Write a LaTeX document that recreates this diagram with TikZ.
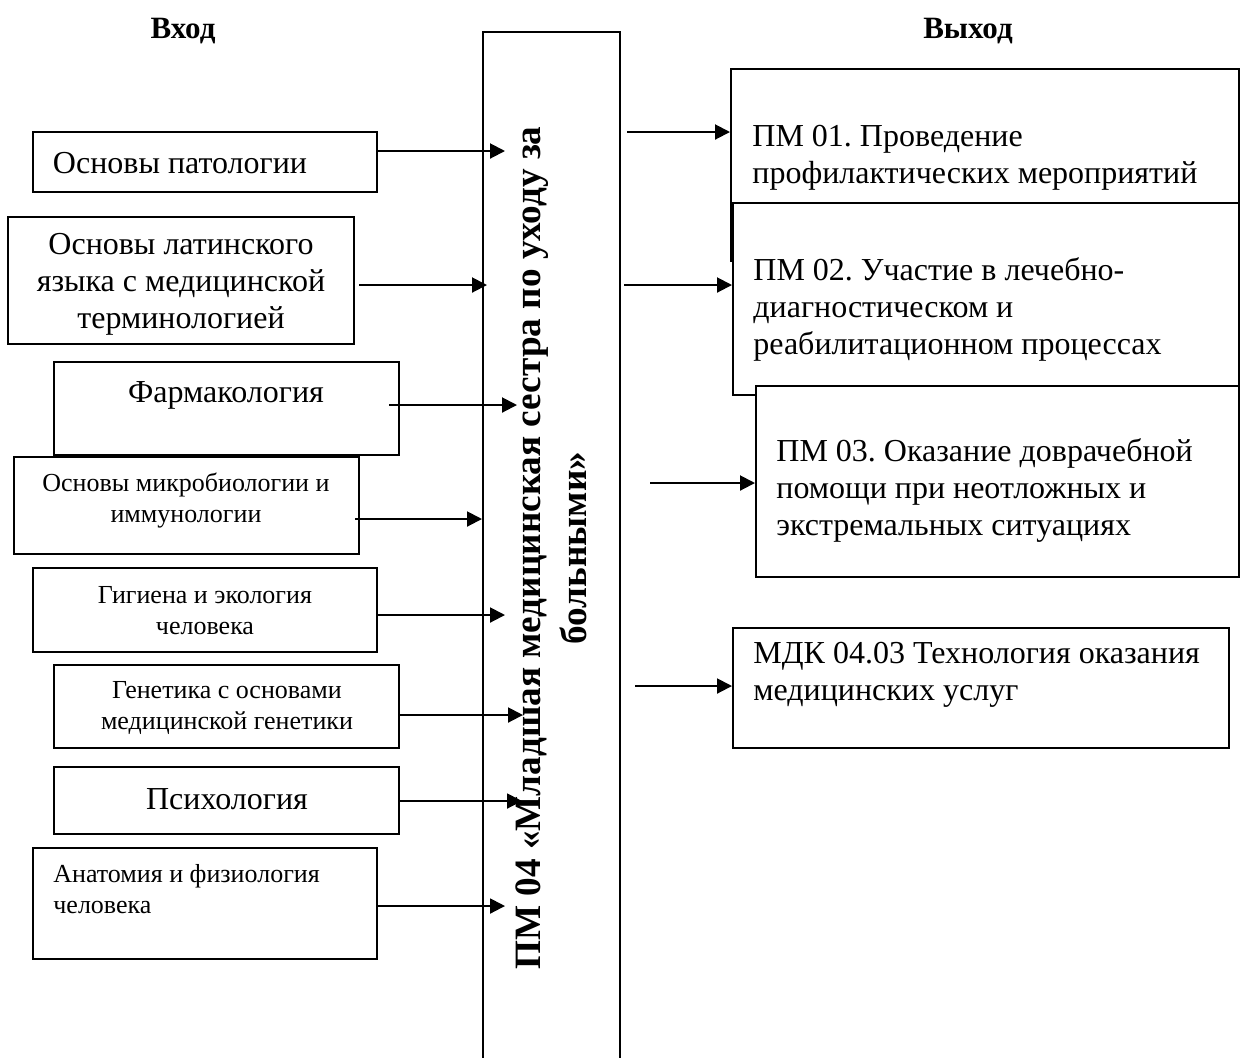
\documentclass[tikz,border=0pt]{standalone}
\usepackage{fontspec}
\setmainfont{Liberation Serif}
\usetikzlibrary{arrows.meta,calc}
\frenchspacing

\begin{document}
\begin{tikzpicture}[x=0.5pt,y=-0.5pt,
  box/.style={draw,line width=1pt,fill=white,inner sep=0pt},
  big/.style={font=\fontsize{16}{18.5}\selectfont,align=center,inner sep=0pt},
  small/.style={font=\fontsize{13}{15.5}\selectfont,align=center,inner sep=0pt},
  head/.style={font=\bfseries\fontsize{15.5}{18}\selectfont,inner sep=0pt},
  arr/.style={line width=1pt,-{Triangle[length=7.5pt,width=7.5pt]}}]
\useasboundingbox (0,0) rectangle (1240,1057);

\node[head] (inhead) at (183,31) {Вход};
\node[head] (outhead) at (968,31) {Выход};

\node[minimum width=68.5pt,minimum height=520pt,inner sep=0pt] (mod) at (551.5,552) {};
\draw[line width=1pt] (mod.south west) |- (mod.north east) -- (mod.south east);
\node[rotate=90,font=\bfseries\fontsize{18.6}{23}\selectfont,align=center,inner sep=0pt] (modtxt) at (551,548)
  {ПМ 04 «Младшая медицинская сестра по уходу за\\больными»};

\node[box,minimum width=172.25pt,minimum height=30pt] (pat) at (204.75,162) {};
\node[big] (pattxt) at (180,163) {Основы патологии};
\node[box,minimum width=173pt,minimum height=63.5pt] (lat) at (181,280.5) {};
\node[big] (lattxt) at (181,284) {Основы латинского\\языка с медицинской\\терминологией};
\node[box,minimum width=172.5pt,minimum height=46.5pt] (farm) at (226.5,408.5) {};
\node[big] (farmtxt) at (226,395) {Фармакология};
\node[box,minimum width=172.5pt,minimum height=48.5pt] (micro) at (186.5,505.5) {};
\node[small] (microtxt) at (186,500) {Основы микробиологии и\\иммунологии};
\node[box,minimum width=172.25pt,minimum height=42pt] (hyg) at (204.75,610) {};
\node[small] (hygtxt) at (205,611) {Гигиена и экология\\человека};
\node[box,minimum width=172.5pt,minimum height=41.5pt] (gen) at (226.5,706.5) {};
\node[small] (gentxt) at (227,707.5) {Генетика с основами\\медицинской генетики};
\node[box,minimum width=172.5pt,minimum height=33.5pt] (psy) at (226.5,800.5) {};
\node[big] (psytxt) at (227,799) {Психология};
\node[box,minimum width=172.25pt,minimum height=55.5pt] (anat) at (204.75,903.5) {};
\node[small,anchor=west,align=left] (anattxt) at (53,889.5) {Анатомия и физиология\\человека};

\node[box,minimum width=254pt,minimum height=96pt] (pm1) at (985,165) {};
\node[big,anchor=west,align=left] (pm1txt) at (752,157.5) {ПМ 01. Проведение\\профилактических мероприятий};
\node[box,minimum width=253pt,minimum height=96pt] (pm2) at (986,299) {};
\node[big,anchor=west,align=left] (pm2txt) at (753,309) {ПМ 02. Участие в лечебно-\\диагностическом и\\реабилитационном процессах};
\node[box,minimum width=241.5pt,minimum height=95.5pt] (pm3) at (997.5,481.5) {};
\node[big,anchor=west,align=left] (pm3txt) at (776,490) {ПМ 03. Оказание доврачебной\\помощи при неотложных и\\экстремальных ситуациях};
\node[box,minimum width=248pt,minimum height=60pt] (mdk) at (981,688) {};
\node[big,anchor=west,align=left] (mdktxt) at (753,675) {МДК 04.03 Технология оказания\\медицинских услуг};

\coordinate (e1) at (505,151);
\coordinate (e2) at (487,285);
\coordinate (e3) at (517,405);
\coordinate (e4) at (482,519);
\coordinate (e5) at (505,615);
\coordinate (e6) at (523,715);
\coordinate (e7) at (522,801);
\coordinate (e8) at (505,906);
\draw[arr] (pat.east |- e1) -- (e1);
\draw[arr] ($(lat.east |- e2)+(4,0)$) -- (e2);
\draw[arr] ($(farm.east |- e3)+(-11,0)$) -- (e3);
\draw[arr] ($(micro.east |- e4)+(-5,0)$) -- (e4);
\draw[arr] (hyg.east |- e5) -- (e5);
\draw[arr] (gen.east |- e6) -- (e6);
\draw[arr] (psy.east |- e7) -- (e7);
\draw[arr] (anat.east |- e8) -- (e8);

\coordinate (s1) at (627,132);
\coordinate (s2) at (624,285);
\coordinate (s3) at (650,483);
\coordinate (s4) at (635,686);
\draw[arr] (s1) -- (pm1.west |- s1);
\draw[arr] (s2) -- (pm2.west |- s2);
\draw[arr] (s3) -- (pm3.west |- s3);
\draw[arr] (s4) -- (mdk.west |- s4);
\end{tikzpicture}
\end{document}
